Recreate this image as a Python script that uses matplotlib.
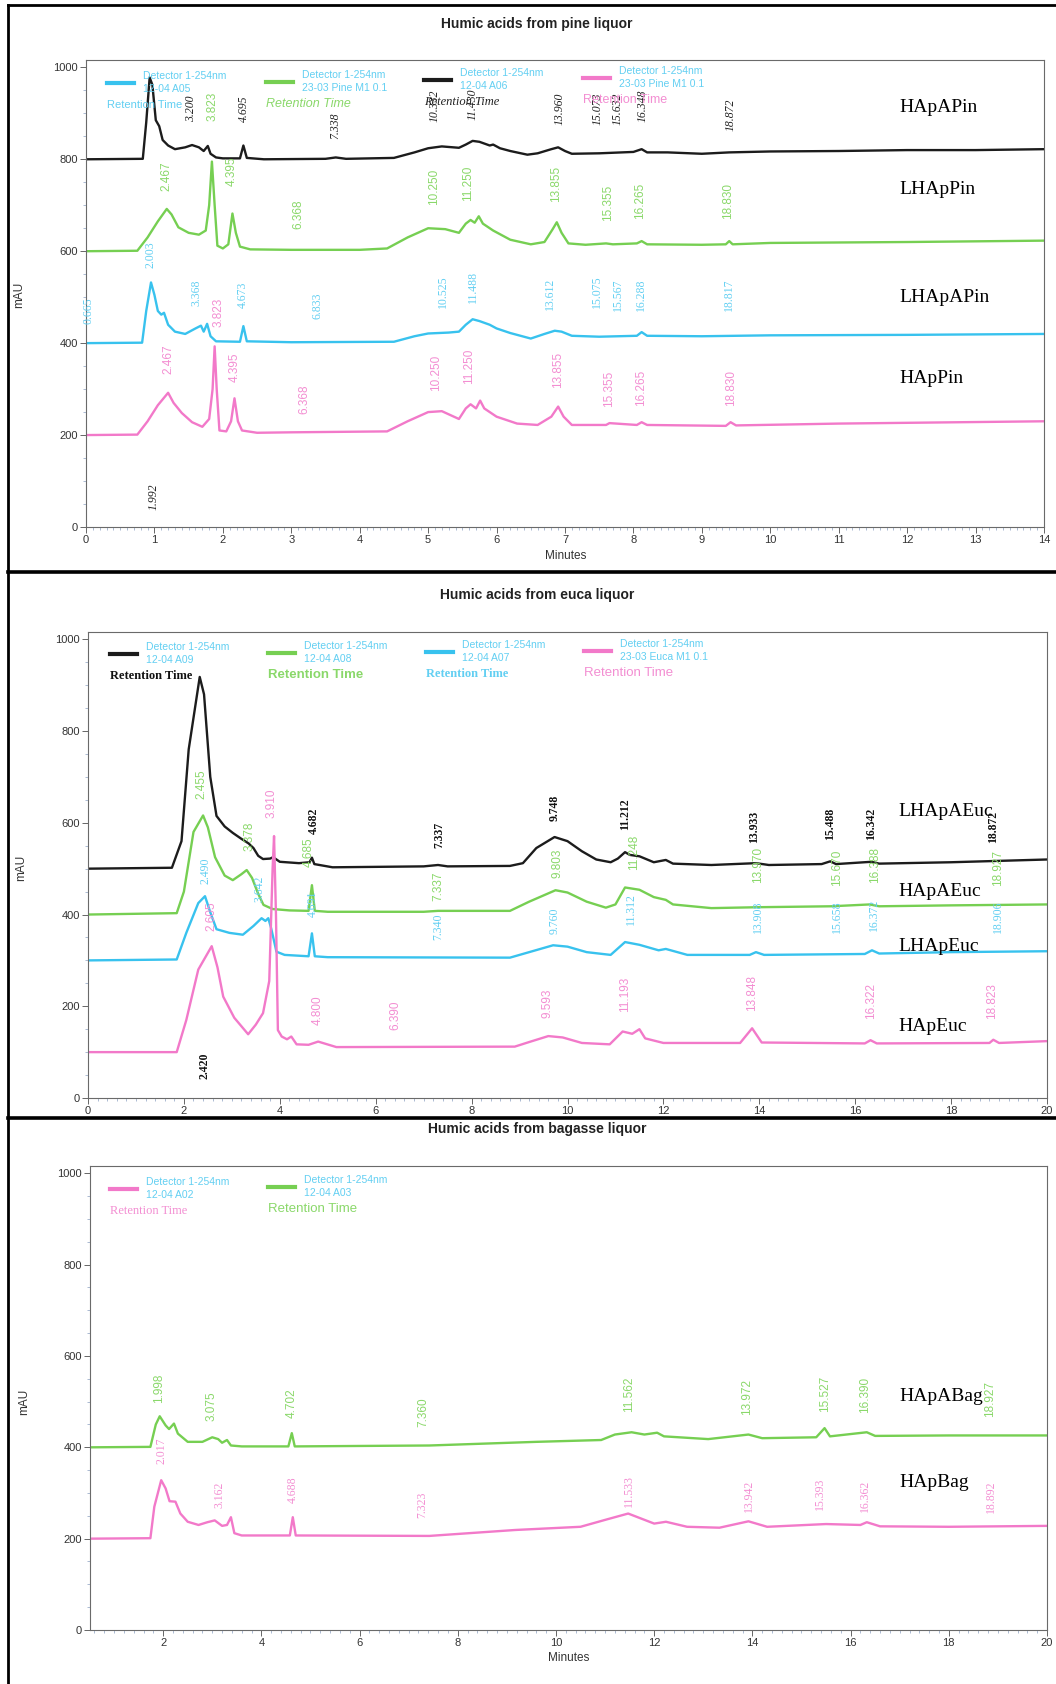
import matplotlib
matplotlib.use("Agg")
import matplotlib.pyplot as plt
from matplotlib.lines import Line2D
from matplotlib.ticker import MultipleLocator
from matplotlib import font_manager

W, H = 1056, 1684
names = {f.name for f in font_manager.fontManager.ttflist}
NARROW = "Liberation Sans Narrow" if "Liberation Sans Narrow" in names else "Liberation Sans"
SANS = "Liberation Sans"
SERIF = "Liberation Serif"

BLACK = "#1c1c1c"
GREEN = "#76cf52"
CYAN = "#38c2ee"
PINK = "#f279c9"
GREEN_T = "#8ad86a"
CYAN_T = "#62cff2"
PINK_T = "#f38ed2"

# ---- pine liquor (axis minutes 0-14) ----
pine_black = [(0, 800), (0.83, 801), (0.88, 880), (0.93, 978), (0.97, 962), (1.02, 885), (1.07, 872),
              (1.12, 842), (1.2, 830), (1.3, 822), (1.45, 826), (1.55, 831), (1.65, 826), (1.72, 818),
              (1.78, 829), (1.82, 812), (1.9, 804), (2.0, 802), (2.25, 802), (2.3, 830), (2.35, 803),
              (2.6, 800), (3.5, 801), (3.65, 804), (3.8, 801), (4.5, 803), (4.8, 815), (5.0, 824),
              (5.2, 828), (5.45, 825), (5.55, 832), (5.65, 840), (5.75, 838), (5.9, 830), (5.95, 832),
              (6.05, 824), (6.2, 818), (6.45, 810), (6.6, 813), (6.8, 822), (6.9, 826), (7.0, 818),
              (7.1, 812), (7.5, 813), (8.0, 816), (8.12, 822), (8.2, 815), (8.5, 815), (9.0, 812),
              (9.4, 815), (10, 817), (11, 818), (12, 820), (13, 820), (14, 822)]
pine_green = [(0, 600), (0.75, 601), (0.9, 630), (1.05, 665), (1.18, 692), (1.25, 680), (1.35, 652),
              (1.5, 640), (1.65, 636), (1.75, 645), (1.8, 700), (1.84, 795), (1.88, 700), (1.92, 612),
              (2.0, 606), (2.08, 615), (2.14, 682), (2.19, 640), (2.25, 610), (2.4, 604), (3.0, 603),
              (4.0, 603), (4.4, 606), (4.7, 630), (5.0, 650), (5.25, 648), (5.45, 640), (5.55, 660),
              (5.62, 668), (5.68, 662), (5.74, 676), (5.8, 660), (5.95, 645), (6.2, 625), (6.5, 615),
              (6.7, 620), (6.82, 648), (6.88, 663), (6.95, 640), (7.05, 617), (7.3, 614), (7.6, 617),
              (7.7, 615), (8.05, 617), (8.12, 622), (8.2, 615), (9.0, 614), (9.35, 615), (9.4, 622),
              (9.45, 615), (10, 618), (12, 620), (14, 623)]
pine_cyan = [(0, 400), (0.82, 401), (0.88, 470), (0.95, 532), (1.0, 505), (1.05, 470), (1.1, 462),
             (1.14, 466), (1.2, 440), (1.3, 425), (1.45, 420), (1.6, 432), (1.68, 438), (1.72, 425),
             (1.77, 442), (1.82, 415), (1.9, 404), (2.25, 403), (2.3, 437), (2.35, 404), (3.0, 402),
             (4.5, 403), (4.8, 415), (5.0, 421), (5.3, 423), (5.45, 425), (5.55, 440), (5.65, 452),
             (5.75, 448), (5.9, 440), (6.0, 432), (6.2, 422), (6.5, 410), (6.7, 420), (6.85, 427),
             (6.95, 425), (7.1, 416), (7.5, 414), (8.05, 416), (8.12, 424), (8.2, 416), (9, 415),
             (10, 417), (12, 418), (14, 420)]
pine_pink = [(0, 200), (0.75, 201), (0.9, 230), (1.05, 265), (1.2, 292), (1.28, 270), (1.4, 248),
             (1.55, 228), (1.7, 218), (1.8, 235), (1.85, 300), (1.88, 393), (1.91, 300), (1.95, 210),
             (2.05, 208), (2.12, 230), (2.17, 280), (2.22, 230), (2.28, 210), (2.5, 205), (3.0, 206),
             (4.4, 208), (4.7, 230), (5.0, 250), (5.2, 252), (5.45, 235), (5.55, 258), (5.62, 267),
             (5.7, 258), (5.76, 275), (5.82, 258), (6.0, 240), (6.3, 225), (6.6, 222), (6.8, 240),
             (6.9, 262), (6.98, 240), (7.1, 222), (7.6, 222), (7.65, 226), (8.05, 222), (8.12, 228),
             (8.2, 222), (9.35, 220), (9.42, 228), (9.5, 221), (11, 225), (14, 230)]

pine_black_lbl = ["3.200", "4.695", "7.338", "10.332", "11.430", "13.960", "15.073", "15.632", "16.348", "18.872", "1.992"]
pine_black_lx = [1.54, 2.31, 3.64, 5.1, 5.65, 6.92, 7.47, 7.77, 8.13, 9.42, 0.99]
pine_black_ly = [909, 911, 874, 916, 920, 909, 909, 909, 916, 897, 66]
pine_green_lbl = ["2.467", "3.823", "4.395", "6.368", "10.250", "11.250", "13.855", "15.355", "16.265", "18.830"]
pine_green_lx = [1.18, 1.85, 2.13, 3.1, 5.08, 5.59, 6.87, 7.63, 8.1, 9.39]
pine_green_ly = [763, 915, 775, 681, 740, 747, 747, 705, 710, 710]
pine_cyan_lbl = ["0.665", "2.003", "3.368", "4.673", "6.833", "10.525", "11.488", "13.612", "15.075", "15.567", "16.288", "18.817"]
pine_cyan_lx = [0.04, 0.94, 1.62, 2.29, 3.39, 5.21, 5.65, 6.78, 7.47, 7.77, 8.11, 9.4]
pine_cyan_ly = [470, 592, 510, 506, 482, 513, 522, 508, 511, 506, 506, 506]
pine_pink_lbl = ["2.467", "3.823", "4.395", "6.368", "10.250", "11.250", "13.855", "15.355", "16.265", "18.830"]
pine_pink_lx = [1.21, 1.93, 2.18, 3.19, 5.12, 5.6, 6.9, 7.64, 8.11, 9.42]
pine_pink_ly = [365, 466, 347, 279, 335, 349, 342, 300, 302, 302]

# ---- euca liquor (0-20 min) ----
euca_black = [(0, 500), (1.75, 502), (1.95, 560), (2.1, 760), (2.33, 918), (2.42, 880), (2.55, 700),
              (2.68, 615), (2.85, 592), (3.02, 578), (3.2, 565), (3.35, 555), (3.45, 545), (3.55, 528),
              (3.65, 521), (3.8, 522), (3.86, 525), (4.0, 515), (4.4, 512), (4.62, 514), (4.67, 524),
              (4.72, 510), (5.1, 503), (7, 505), (7.3, 508), (7.5, 505), (8.8, 506), (9.07, 512),
              (9.35, 545), (9.73, 569), (10.0, 560), (10.3, 538), (10.6, 520), (10.9, 514), (11.05, 522),
              (11.2, 536), (11.3, 530), (11.5, 527), (11.8, 514), (12.05, 519), (12.2, 511), (13, 508),
              (13.93, 512), (14.2, 508), (15.3, 510), (15.48, 516), (15.6, 510), (16.34, 515),
              (16.5, 511), (18, 514), (20, 520)]
euca_green = [(0, 400), (1.85, 403), (2.0, 450), (2.2, 580), (2.4, 616), (2.5, 590), (2.65, 525),
              (2.85, 485), (3.02, 475), (3.2, 488), (3.31, 497), (3.42, 480), (3.55, 445), (3.66, 421),
              (3.85, 412), (4.2, 409), (4.6, 408), (4.67, 464), (4.73, 408), (5.0, 406), (7, 406),
              (7.3, 408), (8.8, 408), (9.2, 428), (9.75, 453), (10.0, 448), (10.4, 428), (10.8, 415),
              (11.0, 422), (11.2, 459), (11.5, 454), (11.8, 438), (12.05, 432), (12.2, 422), (13, 414),
              (14, 416), (15.5, 418), (16.3, 422), (16.5, 418), (18, 420), (20, 422)]
euca_cyan = [(0, 300), (1.85, 302), (2.05, 360), (2.3, 425), (2.44, 440), (2.55, 405), (2.68, 368),
             (2.95, 360), (3.23, 356), (3.45, 375), (3.62, 392), (3.7, 386), (3.76, 392), (3.82, 370),
             (3.93, 319), (4.1, 312), (4.6, 309), (4.67, 359), (4.73, 309), (5.0, 307), (8.8, 306),
             (9.2, 318), (9.7, 333), (10.0, 330), (10.4, 318), (10.9, 312), (11.2, 340), (11.5, 334),
             (11.9, 322), (12.05, 325), (12.5, 312), (13.8, 312), (13.93, 318), (14.1, 312), (16.2, 314),
             (16.35, 322), (16.5, 315), (18, 318), (20, 320)]
euca_pink = [(0, 100), (1.85, 100), (2.05, 170), (2.3, 280), (2.58, 331), (2.7, 285), (2.82, 221),
             (3.05, 175), (3.34, 139), (3.5, 160), (3.65, 185), (3.78, 255), (3.85, 500), (3.88, 571),
             (3.92, 400), (3.96, 148), (4.04, 134), (4.15, 128), (4.24, 134), (4.35, 117), (4.6, 116),
             (4.8, 123), (5.18, 111), (8.9, 112), (9.2, 122), (9.6, 135), (9.9, 132), (10.3, 120),
             (10.88, 117), (11.15, 145), (11.35, 140), (11.5, 150), (11.62, 130), (12.0, 120),
             (13.6, 120), (13.85, 152), (14.05, 121), (16.2, 119), (16.32, 126), (16.45, 119),
             (18.8, 120), (18.88, 127), (19.0, 120), (20, 124)]

euca_black_lbl = ["2.420", "4.682", "7.337", "9.748", "11.212", "13.933", "15.488", "16.342", "18.872"]
euca_black_lx = [2.42, 4.72, 7.32, 9.74, 11.2, 13.9, 15.48, 16.33, 18.88]
euca_black_ly = [70, 605, 574, 632, 618, 592, 598, 598, 590]
euca_green_lbl = ["2.455", "3.378", "4.685", "7.337", "9.803", "11.248", "13.970", "15.670", "16.388", "18.927"]
euca_green_lx = [2.37, 3.36, 4.6, 7.3, 9.79, 11.38, 13.98, 15.62, 16.41, 18.97]
euca_green_ly = [685, 570, 537, 461, 512, 536, 508, 501, 508, 501]
euca_cyan_lbl = ["2.490", "3.642", "4.691", "7.340", "9.760", "11.312", "13.908", "15.658", "16.372", "18.906"]
euca_cyan_lx = [2.46, 3.58, 4.68, 7.3, 9.74, 11.33, 13.98, 15.62, 16.39, 18.97]
euca_cyan_ly = [495, 457, 424, 374, 386, 413, 396, 395, 400, 396]
euca_pink_lbl = ["2.605", "3.910", "4.800", "6.390", "9.593", "11.193", "13.848", "16.322", "18.823"]
euca_pink_lx = [2.58, 3.83, 4.79, 6.4, 9.58, 11.2, 13.84, 16.33, 18.86]
euca_pink_ly = [396, 642, 192, 180, 206, 225, 229, 211, 211]

# ---- bagasse liquor (0.5-20 min) ----
bag_green = [(0.51, 400), (1.74, 401), (1.85, 450), (1.93, 468), (2.05, 448), (2.12, 440), (2.22, 452),
             (2.3, 430), (2.5, 412), (2.8, 412), (3.0, 422), (3.12, 418), (3.2, 410), (3.3, 416),
             (3.38, 404), (3.6, 402), (4.55, 402), (4.62, 431), (4.68, 402), (6, 403), (7.42, 404),
             (9.6, 412), (10.92, 416), (11.2, 428), (11.54, 433), (11.8, 428), (12.06, 432), (12.2, 424),
             (13.1, 418), (13.92, 428), (14.2, 420), (15.3, 422), (15.47, 442), (15.58, 424),
             (16.33, 433), (16.5, 425), (18, 426), (20, 426)]
bag_pink = [(0.51, 200), (1.74, 201), (1.82, 270), (1.96, 328), (2.05, 310), (2.13, 282), (2.25, 281),
            (2.35, 255), (2.5, 237), (2.72, 230), (2.9, 236), (3.05, 240), (3.2, 228), (3.3, 230),
            (3.38, 247), (3.45, 212), (3.6, 207), (4.58, 207), (4.64, 247), (4.7, 207), (7.42, 206),
            (9.17, 219), (10.5, 226), (11.03, 242), (11.47, 255), (12.0, 233), (12.24, 237),
            (12.67, 226), (13.33, 224), (13.92, 238), (14.3, 226), (15.5, 232), (16.2, 230),
            (16.33, 236), (16.6, 227), (18, 226), (20, 228)]

bag_green_lbl = ["1.998", "3.075", "4.702", "7.360", "11.562", "13.972", "15.527", "16.390", "18.927"]
bag_green_lx = [1.91, 2.98, 4.62, 7.3, 11.49, 13.9, 15.47, 16.3, 18.84]
bag_green_ly = [529, 491, 496, 476, 515, 511, 518, 515, 506]
bag_pink_lbl = ["2.017", "3.162", "4.688", "7.323", "11.533", "13.942", "15.393", "16.362", "18.892"]
bag_pink_lx = [1.96, 3.14, 4.65, 7.27, 11.49, 13.92, 15.38, 16.3, 18.86]
bag_pink_ly = [393, 296, 307, 275, 304, 294, 299, 294, 292]

fig = plt.figure(figsize=(W / 100, H / 100), dpi=100)


def fx(px):
    return px / W


def fy(py):
    return 1 - py / H


def make_axes(left, right, top, bottom):
    return fig.add_axes([fx(left), fy(bottom), fx(right) - fx(left), fy(top) - fy(bottom)])


def style_axes(ax, xlim, xminor):
    ax.set_xlim(*xlim)
    ax.set_ylim(0, 1016)
    ax.xaxis.set_major_locator(MultipleLocator(2 if xlim[1] > 15 else 1))
    ax.xaxis.set_minor_locator(MultipleLocator(xminor))
    ax.yaxis.set_major_locator(MultipleLocator(200))
    ax.yaxis.set_minor_locator(MultipleLocator(50))
    for s in ax.spines.values():
        s.set_color("#6a6a6a")
        s.set_linewidth(0.8)
    ax.tick_params(which="major", length=4, width=0.7, color="#666666", labelsize=8,
                   labelcolor="#333333", pad=2)
    ax.tick_params(which="minor", length=2, width=0.5, color="#8aa0c0")
    for lbl in ax.get_xticklabels() + ax.get_yticklabels():
        lbl.set_fontfamily(NARROW)


def trace(ax, pts, color):
    xs, ys = zip(*pts)
    ax.plot(xs, ys, color=color, lw=1.7, solid_joinstyle="round")


def peak_labels(ax, texts, xs, ys, color, family, **kw):
    for s, x, y in zip(texts, xs, ys):
        ax.text(x, y, s, rotation=90, ha="center", va="center", fontsize=8.5,
                color=color, family=family, clip_on=False, **kw)


def side_label(ax, x, y, s):
    ax.text(x, y, s, family=SERIF, fontsize=14, ha="left", va="center", color="black")


def legend_entry(x, y, color, line2, rt_color, rt_kw):
    fig.add_artist(Line2D([fx(x), fx(x + 27)], [fy(y), fy(y)], color=color, lw=3,
                          transform=fig.transFigure))
    fig.text(fx(x + 36), fy(y - 7), "Detector 1-254nm", color=CYAN_T, fontsize=7.5,
             family=NARROW, va="center")
    fig.text(fx(x + 36), fy(y + 6), line2, color=CYAN_T, fontsize=7.5, family=NARROW, va="center")
    fig.text(fx(x), fy(y + 22), "Retention Time", color=rt_color, va="center", **rt_kw)


ax1 = make_axes(86, 1044, 60, 527)
ax2 = make_axes(88, 1047, 632, 1098)
ax3 = make_axes(90, 1047, 1166, 1630)
style_axes(ax1, (0, 14), 0.1)
style_axes(ax2, (0, 20), 0.2)
style_axes(ax3, (0.51, 20), 0.2)

# pine
trace(ax1, pine_black, BLACK)
trace(ax1, pine_green, GREEN)
trace(ax1, pine_cyan, CYAN)
trace(ax1, pine_pink, PINK)
peak_labels(ax1, pine_green_lbl, pine_green_lx, pine_green_ly, GREEN_T, NARROW)
peak_labels(ax1, pine_cyan_lbl, pine_cyan_lx, pine_cyan_ly, CYAN_T, SERIF)
peak_labels(ax1, pine_pink_lbl, pine_pink_lx, pine_pink_ly, PINK_T, NARROW)
peak_labels(ax1, pine_black_lbl, pine_black_lx, pine_black_ly, "#222222", SERIF, style="italic")
side_label(ax1, 11.88, 913, "HApAPin")
side_label(ax1, 11.88, 735, "LHApPin")
side_label(ax1, 11.88, 499, "LHApAPin")
side_label(ax1, 11.88, 323, "HApPin")

# euca
trace(ax2, euca_black, BLACK)
trace(ax2, euca_green, GREEN)
trace(ax2, euca_cyan, CYAN)
trace(ax2, euca_pink, PINK)
peak_labels(ax2, euca_green_lbl, euca_green_lx, euca_green_ly, GREEN_T, NARROW)
peak_labels(ax2, euca_cyan_lbl, euca_cyan_lx, euca_cyan_ly, CYAN_T, SERIF)
peak_labels(ax2, euca_pink_lbl, euca_pink_lx, euca_pink_ly, PINK_T, NARROW)
peak_labels(ax2, euca_black_lbl, euca_black_lx, euca_black_ly, "#111111", SERIF, weight="bold")
side_label(ax2, 16.9, 625, "LHApAEuc")
side_label(ax2, 16.9, 450, "HApAEuc")
side_label(ax2, 16.9, 331, "LHApEuc")
side_label(ax2, 16.9, 155, "HApEuc")

# bagasse
trace(ax3, bag_green, GREEN)
trace(ax3, bag_pink, PINK)
peak_labels(ax3, bag_green_lbl, bag_green_lx, bag_green_ly, GREEN_T, NARROW)
peak_labels(ax3, bag_pink_lbl, bag_pink_lx, bag_pink_ly, PINK_T, SERIF)
side_label(ax3, 16.99, 511, "HApABag")
side_label(ax3, 16.99, 322, "HApBag")

# legends
legend_entry(107, 83, CYAN, "12-04 A05", CYAN_T, dict(fontsize=8, family=NARROW))
legend_entry(266, 82, GREEN, "23-03 Pine M1 0.1", GREEN_T, dict(fontsize=9, family=NARROW, style="italic"))
legend_entry(424, 80, BLACK, "12-04 A06", "#222222", dict(fontsize=9, family=SERIF, style="italic"))
legend_entry(583, 78, PINK, "23-03 Pine M1 0.1", PINK_T, dict(fontsize=9, family=NARROW))

legend_entry(110, 654, BLACK, "12-04 A09", "#111111", dict(fontsize=9, family=SERIF, weight="bold"))
legend_entry(268, 653, GREEN, "12-04 A08", GREEN_T, dict(fontsize=9.5, family=NARROW, weight="bold"))
legend_entry(426, 652, CYAN, "12-04 A07", CYAN_T, dict(fontsize=9, family=SERIF, weight="bold"))
legend_entry(584, 651, PINK, "23-03 Euca M1 0.1", PINK_T, dict(fontsize=9.5, family=NARROW))

legend_entry(110, 1189, PINK, "12-04 A02", PINK_T, dict(fontsize=9, family=SERIF))
legend_entry(268, 1187, GREEN, "12-04 A03", GREEN_T, dict(fontsize=9.5, family=NARROW))

# titles and axis labels
for y, t in [(24, "Humic acids from pine liquor"), (595, "Humic acids from euca liquor"),
             (1129, "Humic acids from bagasse liquor")]:
    fig.text(fx(537), fy(y), t, ha="center", va="center", fontsize=10, weight="bold",
             family=SANS, color="#222222")
for x, y in [(19, 295), (21, 868), (24, 1402)]:
    fig.text(fx(x), fy(y), "mAU", rotation=90, ha="center", va="center", fontsize=8.5,
             family=NARROW, color="#333333")
fig.text(fx(566), fy(556), "Minutes", ha="center", va="center", fontsize=8.5, family=NARROW, color="#333333")
fig.text(fx(569), fy(1658), "Minutes", ha="center", va="center", fontsize=8.5, family=NARROW, color="#333333")

# panel borders
for a, b, c, d, lw in [(8, 5, 1056, 5, 2), (8, 5, 8, 1684, 2), (8, 572, 1056, 572, 2.6),
                       (8, 1118, 1056, 1118, 2.6)]:
    fig.add_artist(Line2D([fx(a), fx(c)], [fy(b), fy(d)], color="black", lw=lw,
                          transform=fig.transFigure))

fig.savefig("out.png", dpi=100, facecolor="white")
